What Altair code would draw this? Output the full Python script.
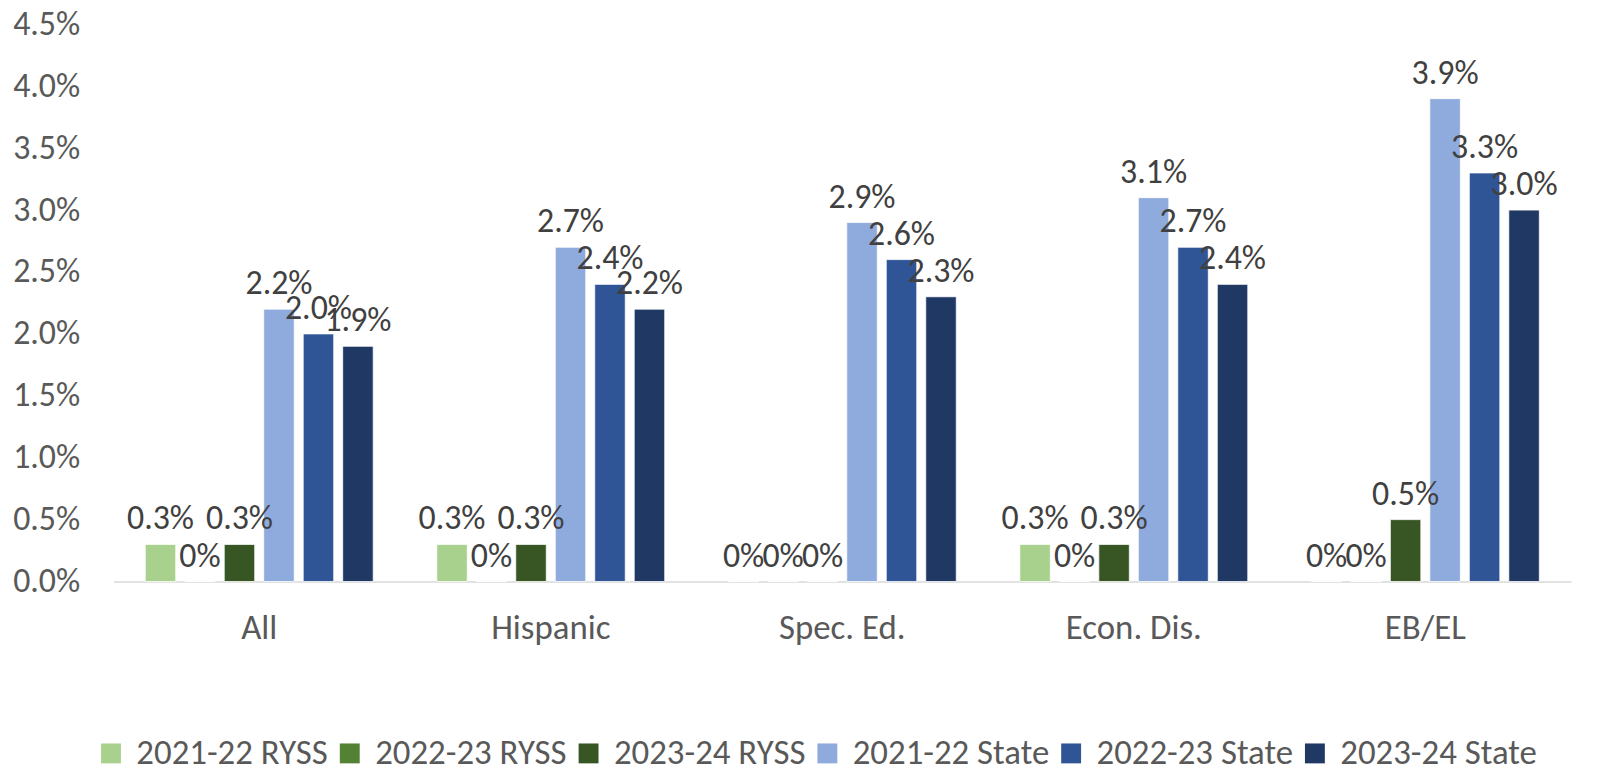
import altair as alt
import pandas as pd

categories = ["All", "Hispanic", "Spec. Ed.", "Econ. Dis.", "EB/EL"]
series = ["2021-22 RYSS", "2022-23 RYSS", "2023-24 RYSS",
          "2021-22 State", "2022-23 State", "2023-24 State"]
colors = ["#A9D18E", "#548235", "#375623", "#8FAADC", "#2F5597", "#203864"]

ryss_2122 = [0.003, 0.003, 0.0, 0.003, 0.0]
ryss_2223 = [0.0, 0.0, 0.0, 0.0, 0.0]
ryss_2324 = [0.003, 0.003, 0.0, 0.003, 0.005]
state_2122 = [0.022, 0.027, 0.029, 0.031, 0.039]
state_2223 = [0.020, 0.024, 0.026, 0.027, 0.033]
state_2324 = [0.019, 0.022, 0.023, 0.024, 0.030]

y_ticks = [0.0, 0.005, 0.01, 0.015, 0.02, 0.025, 0.03, 0.035, 0.04, 0.045]

all_series = [ryss_2122, ryss_2223, ryss_2324, state_2122, state_2223, state_2324]
rows = []
for s, vals in zip(series, all_series):
    for c, v in zip(categories, vals):
        rows.append({"category": c, "series": s, "value": v})
df = pd.DataFrame(rows)

FONT = "Carlito, Lato"

x = alt.X("category:N", sort=categories, title=None,
          scale=alt.Scale(paddingInner=0.218, paddingOuter=0.109),
          axis=alt.Axis(labelAngle=0, ticks=False, domainColor="#D9D9D9", domainWidth=1.5,
                        labelFont=FONT, labelFontSize=35, labelColor="#595959",
                        labelPadding=29))
xo = alt.XOffset("series:N", sort=series,
                 scale=alt.Scale(paddingInner=0.227, paddingOuter=0))
y = alt.Y("value:Q", title=None,
          scale=alt.Scale(domain=[0, 0.045], nice=False),
          axis=alt.Axis(values=y_ticks, format=".1%", grid=False, domain=False, ticks=False,
                        labelFont=FONT, labelFontSize=34, labelColor="#595959",
                        labelPadding=34))
color = alt.Color("series:N", sort=series, title=None,
                  scale=alt.Scale(domain=series, range=colors),
                  legend=alt.Legend(orient="none", legendX=-20, legendY=715,
                                    direction="horizontal", symbolType="square",
                                    symbolSize=400, symbolStrokeWidth=0,
                                    labelFont=FONT, labelFontSize=35, labelColor="#595959",
                                    labelLimit=500, columnPadding=4, labelOffset=8))

base = alt.Chart(df)
bars = base.mark_bar(stroke="white", strokeWidth=0.8).encode(
    x=x, xOffset=xo, y=y, color=color)
labels = base.transform_calculate(
    label="datum.value == 0 ? '0%' : format(datum.value, '.1%')"
).mark_text(baseline="alphabetic", dy=-15, font=FONT, fontSize=34, color="#404040").encode(
    x=x, xOffset=xo, y=y, text="label:N")

chart = alt.layer(bars, labels).properties(
    width=1465, height=560,
    autosize=alt.AutoSizeParams(type="none"),
    padding={"left": 106, "top": 14.5, "right": 19, "bottom": 190},
).configure_view(stroke=None)

chart.save("out.html", embed_options={"renderer": "svg", "actions": False})
